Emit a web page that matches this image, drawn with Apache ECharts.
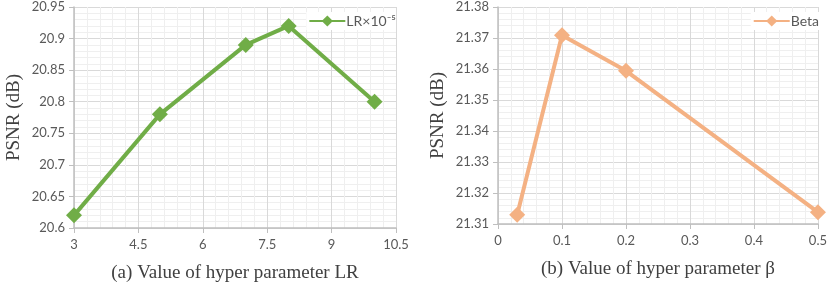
<!DOCTYPE html>
<html>
<head>
<meta charset="utf-8">
<script src="https://cdn.jsdelivr.net/npm/echarts@6/dist/echarts.min.js"></script>
<style>html,body{margin:0;padding:0;background:#fff}#c{width:830px;height:288px}</style>
</head>
<body>
<div id="c"></div>
<script>
// ---- data ----
const lrX = [3, 5, 7, 8, 10];
const lrPSNR = [20.62, 20.78, 20.89, 20.92, 20.80];
const betaX = [0.03, 0.1, 0.2, 0.5];
const betaPSNR = [21.313, 21.3709, 21.3594, 21.3138];
const lrXTicks = [3, 4.5, 6, 7.5, 9, 10.5];
const lrYTicks = [20.6, 20.65, 20.7, 20.75, 20.8, 20.85, 20.9, 20.95];
const betaXTicks = [0, 0.1, 0.2, 0.3, 0.4, 0.5];
const betaYTicks = [21.31, 21.32, 21.33, 21.34, 21.35, 21.36, 21.37, 21.38];
const lrName = 'LR×10⁻⁵';
const betaName = 'Beta';
const titles = ['(a) Value of hyper parameter LR', '(b) Value of hyper parameter β'];
const yTitle = 'PSNR (dB)';

const GREEN = '#70AD47', ORANGE = '#F4B183';
const labelFont = {color: '#595959', fontFamily: 'Lato', fontSize: 13};
const legendFont = {color: '#595959', fontFamily: 'Lato', fontSize: 14};
const serif = {color: '#404040', fontFamily: 'Liberation Serif', fontSize: 19};

function xAxis(idx, ticks, name, dec) {
  return {
    type: 'value', gridIndex: idx,
    min: ticks[0], max: ticks[ticks.length - 1],
    interval: +(ticks[1] - ticks[0]).toFixed(6),
    name: name, nameLocation: 'middle', nameGap: 36, nameTextStyle: serif,
    axisLine: {show: true, onZero: false, lineStyle: {color: '#bfbfbf', width: 1.5}},
    axisTick: {show: true, length: 5, lineStyle: {color: '#bfbfbf', width: 1}},
    axisLabel: Object.assign({margin: 10, formatter: v => String(+v.toFixed(dec))}, labelFont),
    splitLine: {show: true, lineStyle: {color: '#d9d9d9', width: 1}},
    minorTick: {show: false, splitNumber: 5},
    minorSplitLine: {show: true, lineStyle: {color: '#efefef', width: 1}}
  };
}
function yAxis(idx, ticks, dec) {
  return {
    type: 'value', gridIndex: idx,
    min: ticks[0], max: ticks[ticks.length - 1],
    interval: +(ticks[1] - ticks[0]).toFixed(6),
    name: yTitle, nameLocation: 'middle', nameGap: 50, nameTextStyle: serif,
    axisLine: {show: true, lineStyle: {color: '#bfbfbf', width: 1.5}},
    axisTick: {show: true, length: 5, lineStyle: {color: '#bfbfbf', width: 1}},
    axisLabel: Object.assign({margin: 9, formatter: v => String(+v.toFixed(dec))}, labelFont),
    splitLine: {show: true, lineStyle: {color: '#d9d9d9', width: 1}},
    minorTick: {show: false, splitNumber: 5},
    minorSplitLine: {show: true, lineStyle: {color: '#efefef', width: 1}}
  };
}

const chart = echarts.init(document.getElementById('c'), null, {renderer: 'canvas'});
chart.setOption({
  animation: false,
  backgroundColor: '#fff',
  grid: [
    {left: 74, right: 434, top: 7, bottom: 55},
    {left: 498, right: 10, top: 7, bottom: 64}
  ],
  xAxis: [xAxis(0, lrXTicks, titles[0], 2), xAxis(1, betaXTicks, titles[1], 2)],
  yAxis: [yAxis(0, lrYTicks, 3), yAxis(1, betaYTicks, 3)],
  legend: [
    {data: [lrName], right: 434, top: 12, itemWidth: 36, itemHeight: 14, itemGap: 2,
     padding: [2, 0, 2, 2], backgroundColor: '#fff',
     textStyle: Object.assign({}, legendFont, {padding: [0, 0, 0, -4]})},
    {data: [betaName], right: 11, top: 12, itemWidth: 36, itemHeight: 14, itemGap: 2,
     padding: [2, 0, 2, 2], backgroundColor: '#fff',
     textStyle: Object.assign({}, legendFont, {padding: [0, 0, 0, -4]})}
  ],
  series: [
    {name: lrName, type: 'line', xAxisIndex: 0, yAxisIndex: 0,
     data: lrX.map((x, i) => [x, lrPSNR[i]]),
     symbol: 'diamond', symbolSize: 16, clip: false,
     lineStyle: {color: GREEN, width: 4}, itemStyle: {color: GREEN}},
    {name: betaName, type: 'line', xAxisIndex: 1, yAxisIndex: 1,
     data: betaX.map((x, i) => [x, betaPSNR[i]]),
     symbol: 'diamond', symbolSize: 16, clip: false,
     lineStyle: {color: ORANGE, width: 4}, itemStyle: {color: ORANGE}}
  ]
});
</script>
</body>
</html>
